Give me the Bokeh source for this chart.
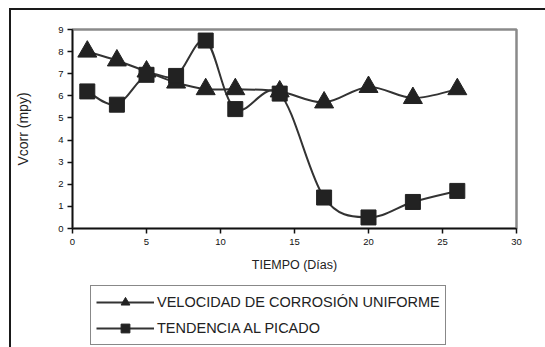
from bokeh.plotting import figure
from bokeh.layouts import column
from bokeh.models import Legend, LegendItem, FixedTicker, ColumnDataSource
from bokeh.embed import file_html
from bokeh.resources import INLINE

# ---- data ----
dias = [1, 3, 5, 7, 9, 11, 14, 17, 20, 23, 26]
uniforme = [8.0, 7.6, 7.1, 6.6, 6.3, 6.3, 6.2, 5.7, 6.4, 5.9, 6.3]
picado = [6.2, 5.6, 6.95, 6.9, 8.5, 5.4, 6.1, 1.4, 0.5, 1.2, 1.7]
x_ticks = [0, 5, 10, 15, 20, 25, 30]
y_ticks = [0, 1, 2, 3, 4, 5, 6, 7, 8, 9]
label_uniforme = "VELOCIDAD DE CORROSIÓN UNIFORME"
label_picado = "TENDENCIA AL PICADO"

FONT = "Liberation Sans"
LINE_C = "#333333"
MARK_C = "#222222"


def smooth_segments(xs, ys):
    """Catmull-Rom style Bezier control points (Excel 'smoothed line')."""
    n = len(xs)
    d = dict(x0=[], y0=[], x1=[], y1=[], cx0=[], cy0=[], cx1=[], cy1=[])
    for i in range(n - 1):
        im = max(i - 1, 0)
        ip2 = min(i + 2, n - 1)
        d["x0"].append(xs[i]); d["y0"].append(ys[i])
        d["x1"].append(xs[i + 1]); d["y1"].append(ys[i + 1])
        d["cx0"].append(xs[i] + (xs[i + 1] - xs[im]) / 6)
        d["cy0"].append(ys[i] + (ys[i + 1] - ys[im]) / 6)
        d["cx1"].append(xs[i + 1] - (xs[ip2] - xs[i]) / 6)
        d["cy1"].append(ys[i + 1] - (ys[ip2] - ys[i]) / 6)
    return ColumnDataSource(d)


p = figure(width=534, height=272, x_range=(0, 30), y_range=(0, 9),
           output_backend="svg", toolbar_location=None,
           min_border_left=61, min_border_right=29,
           min_border_top=19, min_border_bottom=54)

p.xgrid.visible = False
p.ygrid.visible = False
p.outline_line_color = "#8a8a8a"
p.outline_line_width = 2.5
p.background_fill_color = "white"
p.border_fill_color = "white"

for ax in (p.xaxis[0], p.yaxis[0]):
    ax.axis_line_color = "#111111"
    ax.axis_line_width = 1.5
    ax.major_tick_line_color = "#111111"
    ax.major_tick_line_width = 1.5
    ax.major_tick_in = 0
    ax.major_tick_out = 5
    ax.minor_tick_line_color = None
    ax.major_label_text_font = FONT
    ax.major_label_text_font_size = "9.5px"
    ax.major_label_text_color = "#111111"
    ax.axis_label_text_font = FONT
    ax.axis_label_text_font_style = "normal"
    ax.axis_label_text_color = "#222222"

p.xaxis.ticker = FixedTicker(ticks=x_ticks)
p.yaxis.ticker = FixedTicker(ticks=y_ticks)
p.xaxis.major_label_standoff = 5
p.yaxis.major_label_standoff = 4
p.xaxis.axis_label = "TIEMPO (Días)"
p.xaxis.axis_label_text_font_size = "12.5px"
p.xaxis.axis_label_standoff = 10
p.yaxis.axis_label = "Vcorr (mpy)"
p.yaxis.axis_label_text_font_size = "14px"
p.yaxis.axis_label_standoff = 24

# smoothed lines
p.bezier(x0="x0", y0="y0", x1="x1", y1="y1", cx0="cx0", cy0="cy0",
         cx1="cx1", cy1="cy1", source=smooth_segments(dias, uniforme),
         line_color=LINE_C, line_width=2)
p.bezier(x0="x0", y0="y0", x1="x1", y1="y1", cx0="cx0", cy0="cy0",
         cx1="cx1", cy1="cy1", source=smooth_segments(dias, picado),
         line_color=LINE_C, line_width=2)

p.scatter(dias, uniforme, marker="triangle", size=19,
          fill_color=MARK_C, line_color=MARK_C)
p.scatter(dias, picado, marker="square", size=15,
          fill_color=MARK_C, line_color=MARK_C)

# ---- legend panel (separate figure so it is not clipped) ----
nan = float("nan")
q = figure(width=534, height=65, x_range=(0, 1), y_range=(0, 1),
           output_backend="svg", toolbar_location=None,
           x_axis_location=None, y_axis_location=None,
           min_border=0, outline_line_color=None)
q.xgrid.visible = False
q.ygrid.visible = False
q.border_fill_color = "white"

l1 = q.line(x=[0, 1], y=[nan, nan], line_color=LINE_C, line_width=2)
m1 = q.scatter(x=[0], y=[nan], marker="triangle", fill_color=MARK_C, line_color=MARK_C)
l2 = q.line(x=[0, 1], y=[nan, nan], line_color=LINE_C, line_width=2)
m2 = q.scatter(x=[0], y=[nan], marker="square", fill_color=MARK_C, line_color=MARK_C)

legend = Legend(items=[LegendItem(label=label_uniforme, renderers=[l1, m1]),
                       LegendItem(label=label_picado, renderers=[l2, m2])],
                location=(18, 2),
                orientation="vertical",
                glyph_width=58, glyph_height=22, spacing=4,
                label_standoff=3, padding=5, margin=0,
                label_text_font=FONT, label_text_font_size="14.5px",
                label_text_color="#222222",
                border_line_color="#111111", border_line_width=1.5,
                background_fill_color="white", background_fill_alpha=1)
q.add_layout(legend, "center")

layout = column(p, q, spacing=0,
                styles={"margin-left": "9px", "margin-top": "8px",
                        "border-top": "2px solid #1a1a1a",
                        "border-left": "2px solid #1a1a1a"})

open("out.html", "w").write(file_html(layout, INLINE))
